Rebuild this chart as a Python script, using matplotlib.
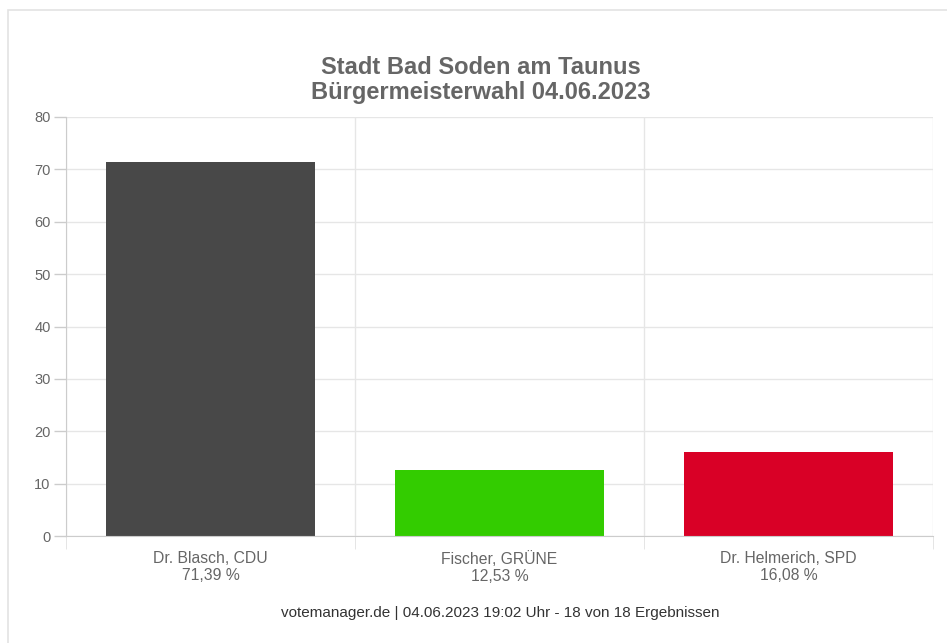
import matplotlib.pyplot as plt
from matplotlib.patches import Rectangle

plt.rcParams['font.family'] = ['Liberation Sans', 'DejaVu Sans']

# Daten
kandidaten = ['Dr. Blasch, CDU', 'Fischer, GRÜNE', 'Dr. Helmerich, SPD']
prozent = [71.39, 12.53, 16.08]
prozent_text = ['71,39 %', '12,53 %', '16,08 %']
farben = ['#484848', '#33cc00', '#d90026']

fig = plt.figure(figsize=(9.47, 6.43), dpi=100)

# heller Rahmen um das Diagramm
fig.patches.append(Rectangle((8 / 947, -0.1), 1.1, (643 - 10) / 643 + 0.1,
                             transform=fig.transFigure, fill=False,
                             edgecolor='#e3e3e3', linewidth=1.2))

ax = fig.add_axes([66 / 947, 107 / 643, 867 / 947, 419 / 643])

x = range(len(kandidaten))
ax.bar(x, prozent, width=0.72, color=farben, zorder=3)

ax.set_xlim(-0.5, 2.5)
ax.set_ylim(0, 80)
ax.set_yticks(range(0, 81, 10))
ax.tick_params(axis='y', colors='#cccccc', labelcolor='#666666', labelsize=10.5,
               length=9, width=1, pad=2)
ax.grid(axis='y', color='#e6e6e6', linewidth=1, zorder=0)

ax.set_xticks(list(x))
ax.set_xticklabels([f'{k}\n{p}' for k, p in zip(kandidaten, prozent_text)],
                   color='#666666', fontsize=11.3, linespacing=1.15)
ax.tick_params(axis='x', which='major', length=0, pad=11)
ax.set_xticks([-0.5, 0.5, 1.5, 2.5], minor=True)
ax.tick_params(axis='x', which='minor', length=9, color='#e0e0e0')
ax.grid(axis='x', which='minor', color='#e6e6e6', linewidth=1, zorder=0)

for s in ['top', 'right']:
    ax.spines[s].set_visible(False)
ax.spines['left'].set_color('#cccccc')
ax.spines['bottom'].set_color('#cccccc')
ax.spines['bottom'].set_zorder(4)

fig.text(481 / 947, 1 - 68 / 643, 'Stadt Bad Soden am Taunus', ha='center', va='center',
         fontsize=17, fontweight='bold', color='#666666')
fig.text(481 / 947, 1 - 92 / 643, 'Bürgermeisterwahl 04.06.2023', ha='center', va='center',
         fontsize=17, fontweight='bold', color='#666666')
fig.text(500 / 947, 1 - 613 / 643, 'votemanager.de | 04.06.2023 19:02 Uhr - 18 von 18 Ergebnissen',
         ha='center', va='center', fontsize=11, color='#333333')

fig.savefig('out.png', dpi=100)
